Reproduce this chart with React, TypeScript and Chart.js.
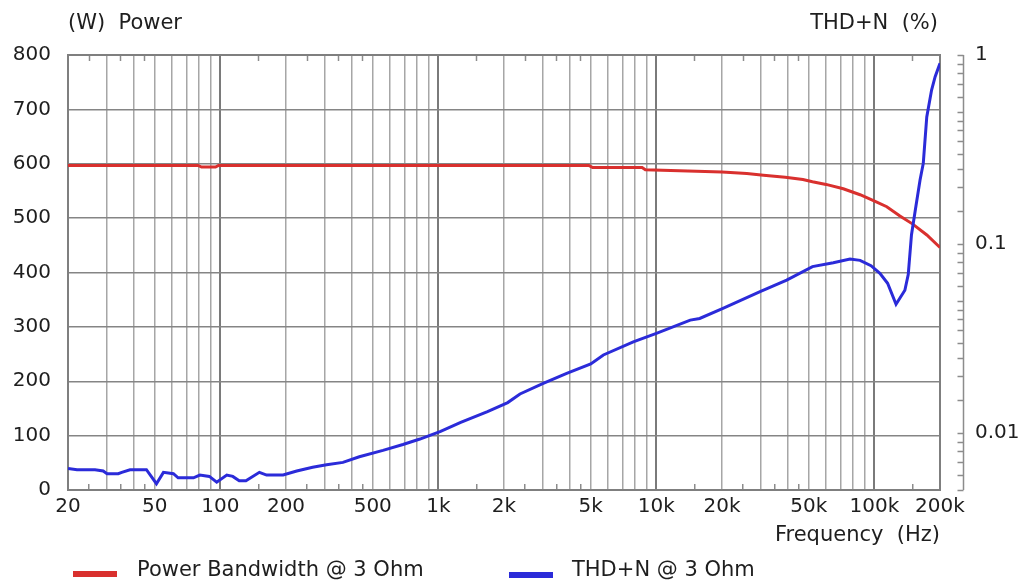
import React, { useEffect, useRef } from 'react';
import { Chart, registerables } from 'chart.js';

Chart.register(...registerables);

// ---------- data ----------
const powerFreq = [20, 79, 82, 95, 98, 4900, 5100, 8600, 8900, 20000, 26000, 31000, 39000, 47000, 52000, 60000, 72000, 86000, 102000, 114000, 131000, 150000, 174000, 200000];
const powerW = [597, 597, 594, 594, 597, 597, 593, 593, 589, 585, 582, 579, 575, 571, 567, 562, 554, 543, 530, 521, 504, 489, 469, 446];

const thdFreq = [20, 22, 26.6, 29, 30.2, 34, 35.3, 38.5, 45.8, 50.9, 54.8, 60.9, 64, 75.3, 80.5, 89, 96.2, 107, 114, 122, 131, 151, 163, 194, 224, 265, 307, 365, 434, 557, 688, 823, 1024, 1266, 1680, 2080, 2368, 3027, 3878, 5000, 5714, 7836, 10000, 14300, 15800, 20200, 29900, 39600, 52000, 64800, 77300, 86000, 96500, 106000, 115000, 125700, 138000, 143000, 148000, 155000, 162000, 167600, 173900, 183000, 190000, 200000];
const thdPct = [0.0065, 0.0064, 0.0064, 0.0063, 0.0061, 0.0061, 0.0062, 0.0064, 0.0064, 0.0054, 0.0062, 0.0061, 0.0058, 0.0058, 0.0060, 0.0059, 0.0055, 0.0060, 0.0059, 0.0056, 0.0056, 0.0062, 0.0060, 0.0060, 0.0063, 0.0066, 0.0068, 0.0070, 0.0075, 0.0081, 0.0087, 0.0093, 0.0102, 0.0114, 0.0130, 0.0145, 0.0161, 0.0183, 0.0207, 0.0232, 0.0259, 0.0304, 0.0337, 0.0396, 0.0404, 0.0457, 0.056, 0.0645, 0.076, 0.0797, 0.0833, 0.082, 0.0768, 0.070, 0.062, 0.048, 0.057, 0.069, 0.112, 0.158, 0.218, 0.267, 0.47, 0.653, 0.768, 0.904];

const freqLabels = [20, 50, 100, 200, 500, 1000, 2000, 5000, 10000, 20000, 50000, 100000, 200000];
const freqDecades = [10, 100, 1000, 10000, 100000];
const freqGridMantissas = [1, 2, 3, 4, 5, 6, 7, 8, 9];
const freqHalfMantissas = [1.5, 2.5, 3.5, 4.5];

const powerTicks = [0, 100, 200, 300, 400, 500, 600, 700, 800];
const thdLabels = [1, 0.1, 0.01];
const thdDecades = [1, 0.1, 0.01];
const thdMantissas = [1, 0.9, 0.8, 0.7, 0.6, 0.5, 0.45, 0.4, 0.35, 0.3, 0.25, 0.2, 0.15];

const seriesNames = ['Power Bandwidth @ 3 Ohm', 'THD+N @ 3 Ohm'];
const seriesColors = ['#d9302e', '#2b2bd9'];

const FREQ_MIN = 20;
const FREQ_MAX = 200000;
const THD_MIN = 0.005;
const THD_MAX = 1;

// ---------- helpers ----------
const round = (v: number) => Math.round(v * 1e6) / 1e6;
const gridFreqs: number[] = [];
const halfFreqs: number[] = [];
freqDecades.forEach((d) => {
  freqGridMantissas.forEach((m) => {
    const v = round(m * d);
    if (v >= FREQ_MIN && v <= FREQ_MAX) gridFreqs.push(v);
  });
  freqHalfMantissas.forEach((m) => {
    const v = round(m * d);
    if (v >= FREQ_MIN && v <= FREQ_MAX) halfFreqs.push(v);
  });
});
const allFreqTicks = [...gridFreqs, ...halfFreqs].sort((a, b) => a - b);
const halfSet = new Set(halfFreqs);
const decadeSet = new Set(freqDecades.map((d) => round(d)));

const thdTicks: number[] = [];
thdDecades.forEach((d) => {
  thdMantissas.forEach((m) => {
    const v = round(m * d * 1000) / 1000;
    if (v >= THD_MIN - 1e-9 && v <= THD_MAX + 1e-9) thdTicks.push(v);
  });
});
[0.009, 0.008, 0.007, 0.006, 0.005].forEach((v) => { if (!thdTicks.includes(v)) thdTicks.push(v); });

const fmtFreq = (v: number) => (v >= 1000 ? `${round(v / 1000)}k` : `${v}`);

const FONT = '"DejaVu Sans", Verdana, sans-serif';
const TEXT = '#1e1e1e';
const BORDER = '#7f7f7f';

const rightAxisPlugin = {
  id: 'rightAxisLine',
  afterDraw(chart: any) {
    const s = chart.scales.y2;
    if (!s) return;
    const ctx = chart.ctx;
    const x = Math.round(s.left + 23) + 0.5;
    ctx.save();
    ctx.strokeStyle = '#8c8c8c';
    ctx.lineWidth = 1.5;
    ctx.beginPath();
    ctx.moveTo(x, s.top);
    ctx.lineTo(x, s.bottom);
    s.ticks.forEach((t: any) => {
      const y = Math.round(s.getPixelForValue(t.value)) + 0.5;
      ctx.moveTo(x - 6, y);
      ctx.lineTo(x, y);
    });
    ctx.stroke();
    ctx.restore();
  },
};

export default function App() {
  const canvasRef = useRef<HTMLCanvasElement | null>(null);

  useEffect(() => {
    const canvas = canvasRef.current;
    if (!canvas) return;
    const chart = new Chart(canvas, {
      type: 'line',
      data: {
        datasets: [
          {
            label: seriesNames[0],
            data: powerFreq.map((f, i) => ({ x: f, y: powerW[i] })),
            borderColor: seriesColors[0],
            backgroundColor: seriesColors[0],
            borderWidth: 3,
            pointRadius: 0,
            tension: 0,
            yAxisID: 'y',
            order: 1,
          },
          {
            label: seriesNames[1],
            data: thdFreq.map((f, i) => ({ x: f, y: thdPct[i] })),
            borderColor: seriesColors[1],
            backgroundColor: seriesColors[1],
            borderWidth: 3,
            pointRadius: 0,
            tension: 0,
            yAxisID: 'y2',
            order: 0,
          },
        ],
      },
      options: {
        animation: false,
        responsive: false,
        devicePixelRatio: 1,
        layout: { padding: { left: 0, right: 0, top: 55, bottom: 26 } },
        plugins: {
          legend: { display: false },
          tooltip: { enabled: false },
          title: { display: false },
        },
        scales: {
          x: {
            type: 'logarithmic',
            position: 'bottom',
            min: FREQ_MIN,
            max: FREQ_MAX,
            afterBuildTicks: (s: any) => {
              s.ticks = allFreqTicks.map((v) => ({ value: v }));
            },
            afterFit: (s: any) => {
              s.height = 70;
            },
            grid: {
              drawOnChartArea: true,
              drawTicks: true,
              tickLength: -6,
              color: (c: any) => {
                const v = round(c.tick?.value ?? 0);
                if (halfSet.has(v)) return 'rgba(0,0,0,0)';
                return decadeSet.has(v) ? '#7a7a7a' : '#a6a6a6';
              },
              lineWidth: (c: any) => {
                const v = round(c.tick?.value ?? 0);
                return decadeSet.has(v) ? 2 : 1.5;
              },
              tickColor: (c: any) => {
                const v = round(c.tick?.value ?? 0);
                return halfSet.has(v) ? '#8c8c8c' : 'rgba(0,0,0,0)';
              },
              tickWidth: 1.5,
            },
            border: { display: true, color: BORDER, width: 2 },
            ticks: {
              autoSkip: false,
              maxRotation: 0,
              minRotation: 0,
              padding: 11,
              color: TEXT,
              font: { family: FONT, size: 20 },
              callback: (v: any) => (freqLabels.includes(round(Number(v))) ? fmtFreq(Number(v)) : ''),
            },
            title: {
              display: true,
              text: 'Frequency  (Hz)',
              align: 'end',
              color: TEXT,
              font: { family: FONT, size: 21 },
              padding: { top: 0, bottom: 12 },
            },
          },
          x2: {
            type: 'logarithmic',
            position: 'top',
            min: FREQ_MIN,
            max: FREQ_MAX,
            afterBuildTicks: (s: any) => {
              s.ticks = halfFreqs.map((v) => ({ value: v }));
            },
            afterFit: (s: any) => {
              s.height = 0;
            },
            grid: {
              drawOnChartArea: false,
              drawTicks: true,
              tickLength: -6,
              tickColor: '#8c8c8c',
              tickWidth: 1.5,
            },
            border: { display: true, color: BORDER, width: 2 },
            ticks: { display: false },
          },
          y: {
            type: 'linear',
            position: 'left',
            min: 0,
            max: 800,
            afterBuildTicks: (s: any) => {
              s.ticks = powerTicks.map((v) => ({ value: v }));
            },
            afterFit: (s: any) => {
              s.width = 68;
            },
            grid: {
              color: '#858585',
              lineWidth: 1.5,
              drawTicks: false,
            },
            border: { display: true, color: BORDER, width: 2 },
            ticks: {
              padding: 17,
              color: TEXT,
              font: { family: FONT, size: 20 },
            },
          },
          y2: {
            type: 'logarithmic',
            position: 'right',
            min: THD_MIN,
            max: THD_MAX,
            afterBuildTicks: (s: any) => {
              s.ticks = thdTicks.map((v) => ({ value: v }));
            },
            afterFit: (s: any) => {
              s.width = 87;
            },
            grid: {
              drawOnChartArea: false,
              drawTicks: false,
            },
            border: { display: true, color: BORDER, width: 2 },
            ticks: {
              autoSkip: false,
              padding: 35,
              color: TEXT,
              font: { family: FONT, size: 20 },
              callback: (v: any) => {
                const n = Number(v);
                return thdLabels.some((l) => Math.abs(l - n) < 1e-9) ? String(n) : '';
              },
            },
          },
        },
      },
      plugins: [rightAxisPlugin],
    } as any);
    return () => chart.destroy();
  }, []);

  const textStyle: React.CSSProperties = {
    position: 'absolute',
    fontFamily: FONT,
    fontSize: 21,
    lineHeight: '24px',
    color: TEXT,
    whiteSpace: 'pre',
  };

  return (
    <div style={{ position: 'fixed', left: 0, top: 0, width: 1027, height: 586, background: '#fff' }}>
      <canvas ref={canvasRef} width={1027} height={586} style={{ position: 'absolute', left: 0, top: 0, width: 1027, height: 586 }} />
      <div style={{ ...textStyle, left: 68, top: 10 }}>(W)  Power</div>
      <div style={{ ...textStyle, right: 1027 - 938, top: 10 }}>THD+N  (%)</div>
      <div style={{ position: 'absolute', left: 73, top: 571, width: 44, height: 6, background: seriesColors[0] }} />
      <div style={{ ...textStyle, left: 137, top: 557 }}>{seriesNames[0]}</div>
      <div style={{ position: 'absolute', left: 509, top: 572, width: 44, height: 6, background: seriesColors[1] }} />
      <div style={{ ...textStyle, left: 572, top: 557 }}>{seriesNames[1]}</div>
    </div>
  );
}
